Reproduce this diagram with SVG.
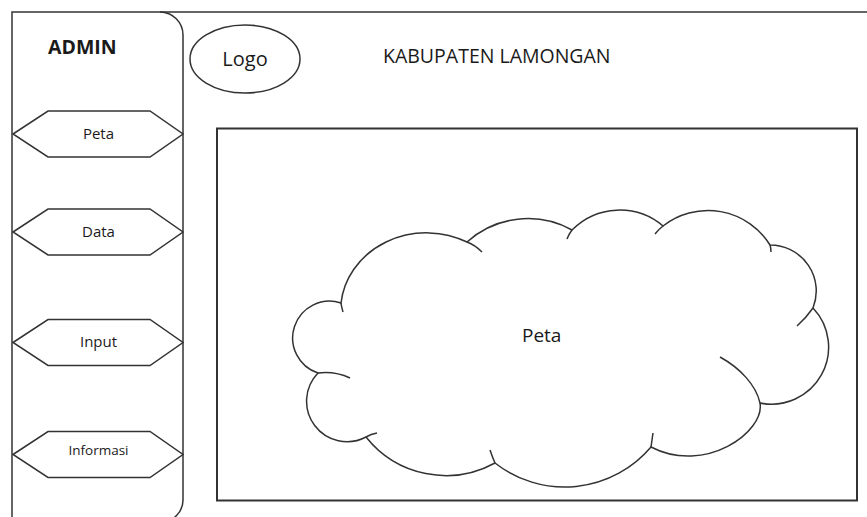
<svg xmlns="http://www.w3.org/2000/svg" width="867" height="517" viewBox="0 0 867 517">
  <style>
    .line { fill: none; stroke: #333333; stroke-width: 1.5; stroke-linejoin: miter; }
    .box { fill: #ffffff; stroke: #333333; stroke-width: 2; }
    .shape { fill: #ffffff; stroke: #333333; stroke-width: 1.5; }
    .txt { font-family: "Open Sans", "Noto Sans", "Liberation Sans", sans-serif; fill: #1a1a1a; }
    .menu { font-size: 15px; text-anchor: middle; }
  </style>
  <defs>
    <!-- menu button outline, centred on its own middle line -->
    <polygon id="hex" points="13,0 48,-23 150,-23 183,0 150,23 48,23"/>
  </defs>

  <rect width="867" height="517" fill="#ffffff"/>

  <!-- page frame: top edge and left edge -->
  <g id="frame">
    <path class="line" d="M12,517 L12,12 L867,12"/>
  </g>

  <!-- left navigation bar -->
  <g id="sidebar">
    <path class="line" d="M160,12 A23,23 0 0 1 183,35 L183,500 A22,22 0 0 1 161,522"/>
    <text class="txt" x="48" y="54" font-size="19.5" font-weight="bold">ADMIN</text>
  </g>

  <g id="menu-peta">
    <use href="#hex" class="shape" transform="translate(0,134)"/>
    <text class="txt menu" x="98.5" y="138.5">Peta</text>
  </g>
  <g id="menu-data">
    <use href="#hex" class="shape" transform="translate(0,232)"/>
    <text class="txt menu" x="98.5" y="236.5">Data</text>
  </g>
  <g id="menu-input">
    <use href="#hex" class="shape" transform="translate(0,342.5)"/>
    <text class="txt menu" x="98.5" y="347">Input</text>
  </g>
  <g id="menu-informasi">
    <use href="#hex" class="shape" transform="translate(0,454.5)"/>
    <text class="txt" x="98.5" y="455" font-size="13.5" text-anchor="middle">Informasi</text>
  </g>

  <!-- header -->
  <g id="logo">
    <ellipse class="shape" cx="245" cy="59" rx="55" ry="34"/>
    <text class="txt" x="245" y="66" font-size="20" text-anchor="middle">Logo</text>
  </g>
  <g id="title">
    <text class="txt" x="383" y="63" font-size="19.5">KABUPATEN LAMONGAN</text>
  </g>

  <!-- map panel -->
  <g id="map-area">
    <rect class="box" x="217" y="128.5" width="640" height="372"/>
  </g>

  <g id="map-cloud">
    <path class="shape" d="M318,373 A36,36 0 0 1 341,303
      A86,78 0 0 1 467,242
      A91,91 0 0 1 572,230
      A67,67 0 0 1 663,226
      A73,73 0 0 1 770,245
      A46,46 0 0 1 813,308
      A57,57 0 0 1 760,403
      C765,432 705,475 651,447
      A113,113 0 0 1 495,463
      A102,102 0 0 1 366,437
      A40.5,40.5 0 0 1 318,373 Z"/>
    <!-- inner overlaps where neighbouring puffs meet -->
    <path class="line" d="M341,303 Q341.5,307 343,312
      M467,242 Q475,245 482,252
      M572,230 Q569,234 567,239
      M663,226 Q659,229 655,234
      M770,245 Q771,248 771,252
      M813,308 Q806,318 797,326
      M720,357 C740,368 756,385 760,403
      M651,447 Q652,440 653,433
      M495,463 Q492,456 490,450
      M366,437 Q371,434 377,433
      M318,373 Q335,371 350,378"/>
    <text class="txt" x="522" y="342" font-size="19">Peta</text>
  </g>
</svg>
